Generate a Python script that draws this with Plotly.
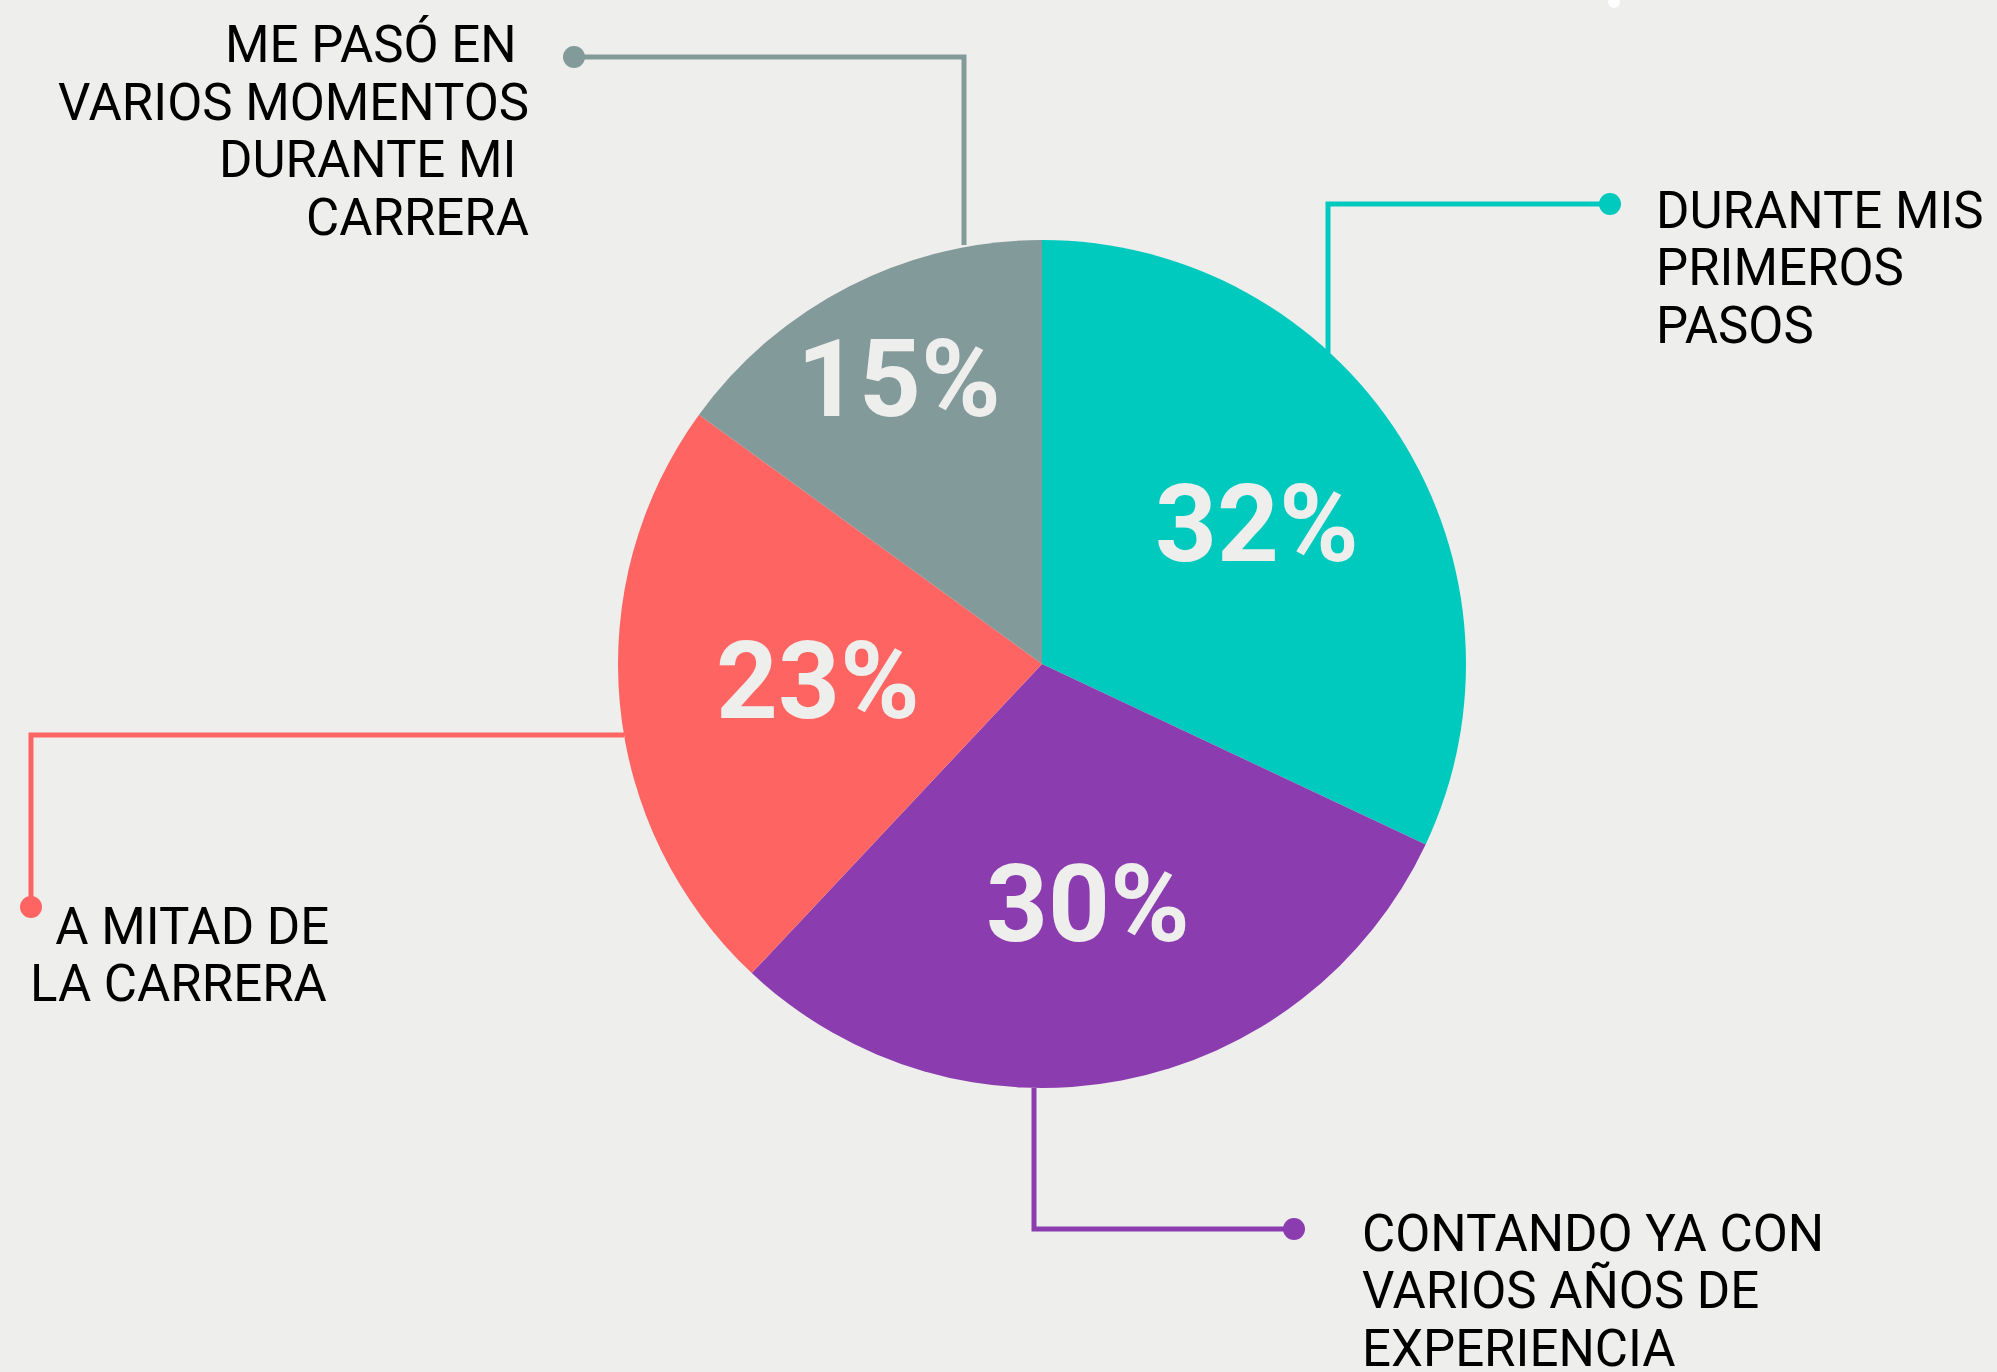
import math
import plotly.graph_objects as go

W, H = 1997, 1372

categories = ["Durante mis primeros pasos", "Contando ya con varios años de experiencia",
              "A mitad de la carrera", "Me pasó en varios momentos durante mi carrera"]
values = [32, 30, 23, 15]
colors = ["#00C9BE", "#8B3DB0", "#FE6461", "#839A9A"]

# label text, one entry per line
label_lines = [
    ["DURANTE MIS", "PRIMEROS", "PASOS"],
    ["CONTANDO YA CON", "VARIOS AÑOS DE", "EXPERIENCIA"],
    ["  A MITAD DE", "LA CARRERA"],
    ["ME PASÓ EN ", "VARIOS MOMENTOS", "DURANTE MI ", "CARRERA"],
]

BG = "#EEEEEC"
cx, cy, r = 1042, 664, 424
# where the percent sits along each slice's bisector, as a share of the radius
text_radius = [0.60, 0.585, 0.53, 0.745]


def px(x):
    return x / W


def py(y):
    return 1 - y / H


fig = go.Figure()

fig.add_trace(
    go.Pie(
        labels=categories,
        values=values,
        sort=False,
        direction="clockwise",
        rotation=0,
        marker=dict(colors=colors, line=dict(width=0)),
        textinfo="none",
        hoverinfo="label+percent",
        showlegend=False,
        domain=dict(x=[px(cx - r), px(cx + r)], y=[py(cy + r), py(cy - r)]),
    )
)

annotations = []

# percent labels, placed on each slice's bisector
total = sum(values)
start = 0
for v, f in zip(values, text_radius):
    mid = (start + v / 2) / total * 2 * math.pi
    start += v
    tx = cx + f * r * math.sin(mid)
    ty = cy - f * r * math.cos(mid)
    annotations.append(dict(
        text=f"{v}%", x=px(tx), y=py(ty - 4), xref="paper", yref="paper",
        xanchor="center", yanchor="middle", showarrow=False,
        font=dict(family="Roboto", size=108, color=BG, weight=700),
    ))

# leader lines: (path points, colour) per slice
leaders = [
    ([(1328, 353), (1328, 204), (1610, 204)], colors[0]),
    ([(1034, 1088), (1034, 1229), (1294, 1229)], colors[1]),
    ([(624, 735), (31, 735), (31, 907)], colors[2]),
    ([(964, 245), (964, 57), (574, 57)], colors[3]),
]

shapes = []
for pts, col in leaders:
    path = "M " + " L ".join(f"{px(x)},{py(y)}" for x, y in pts)
    shapes.append(dict(type="path", path=path, xref="paper", yref="paper",
                       line=dict(color=col, width=5)))
    ex, ey = pts[-1]
    rad = 11
    shapes.append(dict(type="circle", xref="paper", yref="paper",
                       x0=px(ex - rad), x1=px(ex + rad), y0=py(ey + rad), y1=py(ey - rad),
                       fillcolor=col, line=dict(width=0)))

# small white dot cut at the top edge
shapes.append(dict(type="circle", xref="paper", yref="paper",
                   x0=px(1608), x1=px(1620), y0=py(8), y1=py(-4),
                   fillcolor="white", line=dict(width=0)))

# label blocks: (anchor x, first line y, xanchor)
blocks = [
    (1654, 210, "left"),
    (1360, 1233, "left"),
    (28, 926, "left"),
    (531, 45, "right"),
]
step = 57.5

for lines, (ax, ay, anchor) in zip(label_lines, blocks):
    for i, line in enumerate(lines):
        annotations.append(dict(
            text=line.replace(" ", "&nbsp;") if line.startswith(" ") or line.endswith(" ") else line,
            x=px(ax), y=py(ay + i * step), xref="paper", yref="paper",
            xanchor=anchor, yanchor="middle", showarrow=False,
            font=dict(family="Roboto", size=51, color="#000000"),
        ))

fig.update_layout(
    width=W, height=H,
    paper_bgcolor=BG, plot_bgcolor=BG,
    margin=dict(l=0, r=0, t=0, b=0),
    shapes=shapes,
    annotations=annotations,
)

fig.write_html("out.html", config={"displayModeBar": False},
               post_script="document.body.style.margin='0px';")
